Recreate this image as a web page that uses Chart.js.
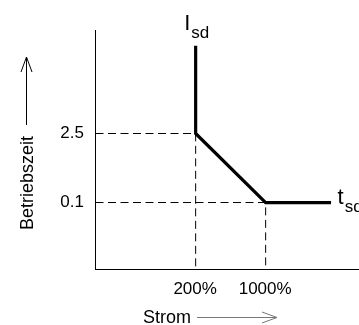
<!DOCTYPE html>
<html>
<head>
<meta charset="utf-8">
<script src="https://cdn.jsdelivr.net/npm/chart.js@4/dist/chart.umd.min.js"></script>
<style>
  html, body { margin: 0; padding: 0; background: #fff; }
  canvas { display: block; }
</style>
</head>
<body>
<canvas id="chart" width="359" height="325"></canvas>
<script>
"use strict";

// ---------- Data ----------

// Strom (current) in %, log axis
const X_MIN = 20;
const X_MAX = 8650;
const xTickValues = [200, 1000];
const xTickLabels = ["200%", "1000%"];

// Betriebszeit (operating time), log axis
const Y_MIN = 0.0044;
const Y_MAX = 305;
const yTickValues = [2.5, 0.1];
const yTickLabels = ["2.5", "0.1"];

// trip curve: I_sd vertical, inverse slope, t_sd flat
const curveCurrent = [200, 200, 1000, 4500];
const curveTime = [150, 2.5, 0.1, 0.1];

const FONT = "'Liberation Sans', Arial, Helvetica, sans-serif";

// ---------- Datasets ----------

function buildDatasets() {
    const curve = {
        data: curveCurrent.map((x, i) => ({ x, y: curveTime[i] })),
        showLine: true,
        borderColor: "#000",
        borderWidth: 3.2,
        borderJoinStyle: "miter",
        pointRadius: 0,
        tension: 0,
    };
    // dashed guides from the y axis to each point and down to the x axis
    const guides = xTickValues.map((xv, i) => ({
        data: [
            { x: X_MIN, y: yTickValues[i] },
            { x: xv, y: yTickValues[i] },
            { x: xv, y: Y_MIN },
        ],
        showLine: true,
        borderColor: "#000",
        borderWidth: 1,
        borderDash: [8, 4.5],
        pointRadius: 0,
        tension: 0,
    }));
    return [curve, ...guides];
}

// ---------- Labels / axis titles ----------

// shift dataset drawing half a pixel so the 1px dashes land on pixel rows
const crispLines = {
    id: "crispLines",
    beforeDatasetsDraw(chart) {
        chart.ctx.save();
        chart.ctx.translate(0.5, 0.5);
    },
    afterDatasetsDraw(chart) {
        chart.ctx.restore();
    },
};

const annotations = {
    id: "annotations",
    afterDraw(chart) {
        const { ctx } = chart;
        const xs = chart.scales.x;
        const ys = chart.scales.y;
        ctx.save();
        ctx.fillStyle = "#000";
        ctx.strokeStyle = "#000";
        ctx.textBaseline = "alphabetic";
        ctx.textAlign = "left";

        // I_sd above the vertical part
        const topX = xs.getPixelForValue(curveCurrent[0]);
        const topY = ys.getPixelForValue(curveTime[0]);
        drawSubscripted(ctx, "I", "sd", topX - 11, topY - 15);

        // t_sd after the flat part
        const last = curveCurrent.length - 1;
        const endX = xs.getPixelForValue(curveCurrent[last]);
        const endY = ys.getPixelForValue(curveTime[last]);
        drawSubscripted(ctx, "t", "sd", endX + 7, endY + 2);

        // y title, rotated, with arrow up
        ctx.font = "18px " + FONT;
        ctx.save();
        ctx.translate(33, 230);
        ctx.rotate(-Math.PI / 2);
        ctx.fillText("Betriebszeit", 0, 0);
        ctx.restore();
        ctx.lineWidth = 1;
        ctx.beginPath();
        ctx.moveTo(26.5, 125);
        ctx.lineTo(26.5, 57);
        ctx.moveTo(21, 72);
        ctx.lineTo(26.5, 57);
        ctx.lineTo(32, 72);
        ctx.stroke();

        // x title with arrow right
        ctx.fillText("Strom", 143, 323);
        ctx.strokeStyle = "#777";
        ctx.beginPath();
        ctx.moveTo(197, 317.5);
        ctx.lineTo(277, 317.5);
        ctx.moveTo(262, 312);
        ctx.lineTo(277, 317.5);
        ctx.lineTo(262, 323);
        ctx.stroke();
        ctx.restore();
    },
};

function drawSubscripted(ctx, main, sub, x, baseline) {
    ctx.font = "22px " + FONT;
    ctx.fillText(main, x, baseline);
    const w = ctx.measureText(main).width;
    ctx.font = "17px " + FONT;
    ctx.fillText(sub, x + w + 1, baseline + 8);
}

// ---------- Chart ----------

Chart.defaults.font.family = FONT;
Chart.defaults.color = "#000";

new Chart(document.getElementById("chart"), {
    type: "scatter",
    data: { datasets: buildDatasets() },
    options: {
        responsive: false,
        animation: false,
        layout: { padding: { top: 30, right: 0, bottom: 0, left: 0 } },
        plugins: { legend: { display: false }, tooltip: { enabled: false } },
        scales: {
            x: {
                type: "logarithmic",
                min: X_MIN,
                max: X_MAX,
                bounds: "data",
                grid: { display: false, drawTicks: false },
                border: { display: true, color: "#000", width: 1 },
                ticks: {
                    font: { size: 17 },
                    padding: 10,
                    autoSkip: false,
                    maxRotation: 0,
                    callback: (v) => xTickLabels[xTickValues.indexOf(v)] ?? "",
                },
                afterBuildTicks: (s) => { s.ticks = xTickValues.map((value) => ({ value })); },
                afterFit: (s) => { s.height = 56; },
            },
            y: {
                type: "logarithmic",
                min: Y_MIN,
                max: Y_MAX,
                bounds: "data",
                grid: { display: false, drawTicks: false },
                border: { display: true, color: "#000", width: 1 },
                ticks: {
                    font: { size: 17 },
                    padding: 11,
                    autoSkip: false,
                    callback: (v) => yTickLabels[yTickValues.indexOf(v)] ?? "",
                },
                afterBuildTicks: (s) => { s.ticks = yTickValues.map((value) => ({ value })); },
                afterFit: (s) => { s.width = 95; },
            },
        },
    },
    plugins: [crispLines, annotations],
});
</script>
</body>
</html>
